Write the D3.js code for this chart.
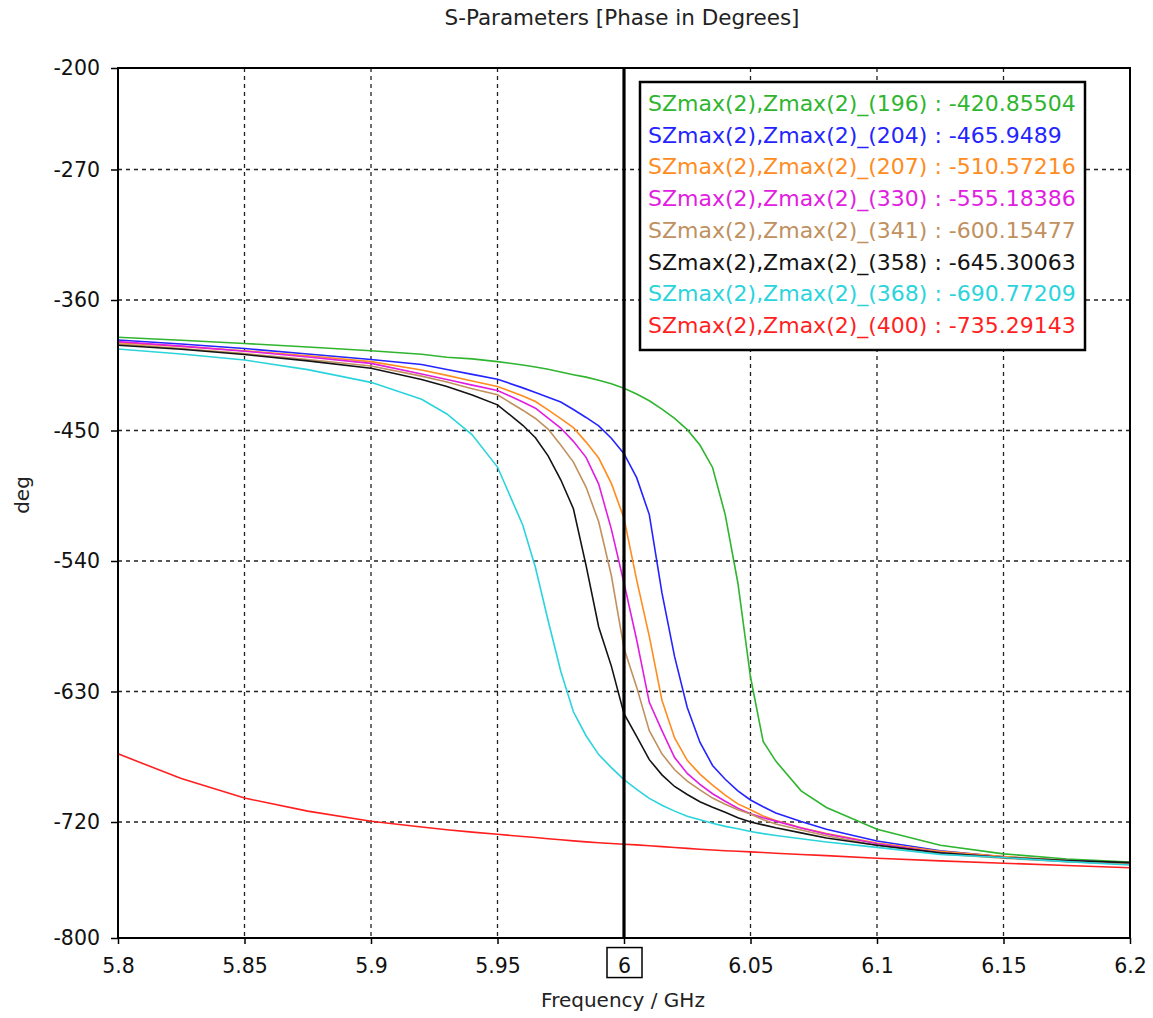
<!DOCTYPE html>
<html>
<head>
<meta charset="utf-8">
<script src="https://cdn.jsdelivr.net/npm/d3@7"></script>
<style>
  body { margin: 0; background: #fff; }
  svg { display: block; font-family: "DejaVu Sans", Verdana, sans-serif; }
</style>
</head>
<body>
<div id="chart"></div>
<script>
// frequency points (GHz)
var freq = [5.80, 5.825, 5.85, 5.875, 5.90, 5.92, 5.93, 5.94, 5.95, 5.96, 5.965, 5.97, 5.975,
  5.98, 5.985, 5.99, 5.995, 6.00, 6.005, 6.01, 6.015, 6.02, 6.025, 6.03, 6.035,
  6.04, 6.045, 6.05, 6.055, 6.06, 6.07, 6.08, 6.10, 6.125, 6.15, 6.175, 6.20];

// phase in degrees, one array per curve
var p196 = [-385.7, -387.8, -390.0, -392.4, -395.0, -397.4, -399.5, -400.6, -402.5, -404.8, -406.2, -407.8, -409.6,
  -411.5, -413.2, -415.3, -417.8, -420.9, -424.8, -429.5, -435.2, -441.7, -449.4, -460.0, -475.5,
  -508.0, -555.0, -620.0, -664.5, -678.0, -698.5, -710.0, -725.0, -736.0, -742.0, -745.5, -747.6];
var p204 = [-387.6, -390.3, -393.5, -397.2, -401.0, -404.5, -407.9, -411.3, -414.6, -420.6, -423.8, -427.0, -430.4,
  -435.5, -441.0, -446.8, -455.3, -466.0, -482.5, -508.0, -562.0, -606.0, -641.0, -665.0, -681.0,
  -690.5, -698.5, -704.8, -709.5, -713.8, -719.7, -725.0, -733.1, -739.8, -744.0, -746.5, -748.5];
var p207 = [-389.4, -392.0, -395.0, -398.5, -402.5, -408.3, -412.0, -415.9, -419.7, -426.2, -430.0, -435.8, -441.8,
  -448.0, -458.0, -469.0, -486.5, -510.5, -553.0, -592.0, -636.0, -662.0, -677.5, -687.0, -694.5,
  -701.5, -707.5, -711.6, -715.8, -719.0, -723.9, -728.0, -734.5, -740.2, -743.8, -746.5, -749.0];
var p330 = [-388.7, -391.8, -395.3, -399.3, -403.7, -411.0, -414.8, -418.7, -422.4, -430.3, -434.6, -441.5, -448.3,
  -457.5, -468.5, -487.0, -518.0, -555.2, -594.3, -637.5, -657.0, -675.5, -686.5, -694.0, -700.5,
  -705.7, -710.5, -714.3, -717.0, -719.4, -724.2, -728.3, -735.0, -741.3, -744.5, -747.2, -749.0];
var p341 = [-390.3, -393.5, -397.0, -401.0, -405.5, -412.5, -416.6, -421.2, -425.4, -436.0, -441.7, -449.0, -460.0,
  -471.8, -489.0, -513.0, -550.0, -600.2, -627.0, -657.0, -673.0, -684.0, -691.8, -697.9, -703.5,
  -707.8, -711.5, -714.5, -718.5, -721.4, -725.5, -729.5, -736.0, -742.0, -745.0, -747.4, -749.0];
var p358 = [-391.2, -394.0, -397.6, -402.0, -407.1, -414.8, -419.6, -425.5, -432.3, -446.4, -455.0, -467.5, -484.0,
  -504.0, -543.0, -585.5, -612.5, -645.3, -661.0, -677.0, -687.5, -695.5, -701.0, -706.0, -709.8,
  -713.3, -717.0, -720.0, -722.0, -724.0, -727.5, -731.0, -736.0, -741.3, -744.5, -746.6, -748.0];
var p368 = [-393.8, -397.2, -401.4, -408.0, -416.8, -428.5, -438.6, -453.0, -475.2, -515.3, -544.5, -581.0, -616.0,
  -644.0, -660.5, -673.5, -682.5, -690.8, -697.5, -703.7, -708.5, -712.5, -716.0, -718.5, -720.8,
  -723.0, -724.6, -726.5, -728.0, -729.3, -731.6, -733.8, -737.5, -742.3, -744.5, -747.3, -749.7];
var p400 = [-673.0, -690.0, -703.5, -712.5, -719.5, -723.5, -725.3, -727.0, -728.5, -730.0, -730.7, -731.5, -732.2,
  -733.0, -733.7, -734.3, -734.8, -735.3, -735.8, -736.4, -737.0, -737.6, -738.2, -738.8, -739.3,
  -739.8, -740.2, -740.6, -741.0, -741.5, -742.4, -743.2, -745.0, -746.8, -748.4, -750.0, -751.5];

var seriesNames = ["196", "204", "207", "330", "341", "358", "368", "400"];
var legendValues = ["-420.85504", "-465.9489", "-510.57216", "-555.18386",
  "-600.15477", "-645.30063", "-690.77209", "-735.29143"];
var seriesValues = [p196, p204, p207, p330, p341, p358, p368, p400];

var xTicks = [5.8, 5.85, 5.9, 5.95, 6, 6.05, 6.1, 6.15, 6.2];
var yTicks = [-200, -270, -360, -450, -540, -630, -720, -800];
var markerFreq = 6;

var margin = { top: 68, right: 23, bottom: 80, left: 118 };
var totalW = 1153, totalH = 1018;
var width = totalW - margin.left - margin.right;
var height = totalH - margin.top - margin.bottom;

var color = d3.scaleOrdinal()
  .domain(seriesNames)
  .range(["#2fb52f", "#2424ff", "#ff8c1f", "#e11de1", "#c0915f", "#141414", "#2bd4dc", "#ff1f1f"]);

var svg = d3.select("#chart")
  .append("svg")
  .attr("width", totalW)
  .attr("height", totalH);

svg.append("rect").attr("width", totalW).attr("height", totalH).attr("fill", "#fff");

var g = svg.append("g")
  .attr("transform", "translate(" + margin.left + "," + margin.top + ")");

var xScale = d3.scaleLinear().domain([5.8, 6.2]).range([0, width]);
var yScale = d3.scaleLinear().domain([-800, -200]).range([height, 0]);

// grid
g.append("g")
  .selectAll("line")
  .data(yTicks.filter(function (d) { return d !== -200 && d !== -800; }))
  .enter()
  .append("line")
  .attr("x1", 0)
  .attr("x2", width)
  .attr("y1", function (d) { return yScale(d); })
  .attr("y2", function (d) { return yScale(d); })
  .attr("stroke", "#222")
  .attr("stroke-width", 1.3)
  .attr("stroke-dasharray", "4,4");

g.append("g")
  .selectAll("line")
  .data(xTicks.filter(function (d) { return d !== 5.8 && d !== 6.2 && d !== markerFreq; }))
  .enter()
  .append("line")
  .attr("x1", function (d) { return xScale(d); })
  .attr("x2", function (d) { return xScale(d); })
  .attr("y1", 0)
  .attr("y2", height)
  .attr("stroke", "#222")
  .attr("stroke-width", 1.3)
  .attr("stroke-dasharray", "4,4");

// axes (plain hyphen for negatives, like the original)
var yAxis = d3.axisLeft(yScale).tickValues(yTicks).tickSize(7).tickPadding(11)
  .tickFormat(function (d) { return String(d); });
var xAxis = d3.axisBottom(xScale).tickValues(xTicks).tickSize(6).tickPadding(14)
  .tickFormat(function (d) { return String(+d.toFixed(2)); });

var gy = g.append("g").call(yAxis);
var gx = g.append("g").attr("transform", "translate(0," + height + ")").call(xAxis);
[gy, gx].forEach(function (a) {
  a.select(".domain").remove();
  a.selectAll(".tick line").attr("stroke", "#000").attr("stroke-width", 1.5);
  a.selectAll(".tick text")
    .attr("fill", "#111")
    .style("font-family", "'DejaVu Sans', Verdana, sans-serif")
    .style("font-size", "20.5px");
});

// box around the marker tick label
gx.selectAll(".tick")
  .filter(function (d) { return d === markerFreq; })
  .each(function () {
    var bb = d3.select(this).select("text").node().getBBox();
    d3.select(this).insert("rect", "text")
      .attr("x", -17.5)
      .attr("y", bb.y - 6)
      .attr("width", 35)
      .attr("height", 30)
      .attr("fill", "#fff")
      .attr("stroke", "#000")
      .attr("stroke-width", 1.5);
  });

// curves
var line = d3.line()
  .x(function (d, i) { return xScale(freq[i]); })
  .y(function (d) { return yScale(d); });

g.append("g")
  .selectAll("path")
  .data(seriesValues)
  .enter()
  .append("path")
  .attr("d", line)
  .attr("fill", "none")
  .attr("stroke", function (d, i) { return color(seriesNames[i]); })
  .attr("stroke-width", 1.6);

// marker line
g.append("line")
  .attr("x1", xScale(markerFreq))
  .attr("x2", xScale(markerFreq))
  .attr("y1", 0)
  .attr("y2", height)
  .attr("stroke", "#000")
  .attr("stroke-width", 3.2);

// frame
g.append("rect")
  .attr("width", width)
  .attr("height", height)
  .attr("fill", "none")
  .attr("stroke", "#000")
  .attr("stroke-width", 2);

// legend
var legend = svg.append("g").attr("transform", "translate(640,82)");
legend.append("rect")
  .attr("width", 445)
  .attr("height", 268)
  .attr("fill", "#fff")
  .attr("stroke", "#000")
  .attr("stroke-width", 2.5);

legend.selectAll("text")
  .data(seriesNames)
  .enter()
  .append("text")
  .attr("x", 8)
  .attr("y", function (d, i) { return 29 + i * 31.7; })
  .attr("fill", function (d) { return color(d); })
  .style("font-size", "22px")
  .text(function (d, i) { return "SZmax(2),Zmax(2)_(" + d + ") : " + legendValues[i]; });

// titles
svg.append("text")
  .attr("x", 622)
  .attr("y", 25)
  .attr("text-anchor", "middle")
  .attr("fill", "#222")
  .style("font-size", "21.5px")
  .text("S-Parameters [Phase in Degrees]");

svg.append("text")
  .attr("x", 623)
  .attr("y", 1007)
  .attr("text-anchor", "middle")
  .attr("fill", "#222")
  .style("font-size", "20px")
  .text("Frequency / GHz");

svg.append("text")
  .attr("transform", "translate(29,495) rotate(-90)")
  .attr("text-anchor", "middle")
  .attr("fill", "#222")
  .style("font-size", "20px")
  .text("deg");
</script>
</body>
</html>
